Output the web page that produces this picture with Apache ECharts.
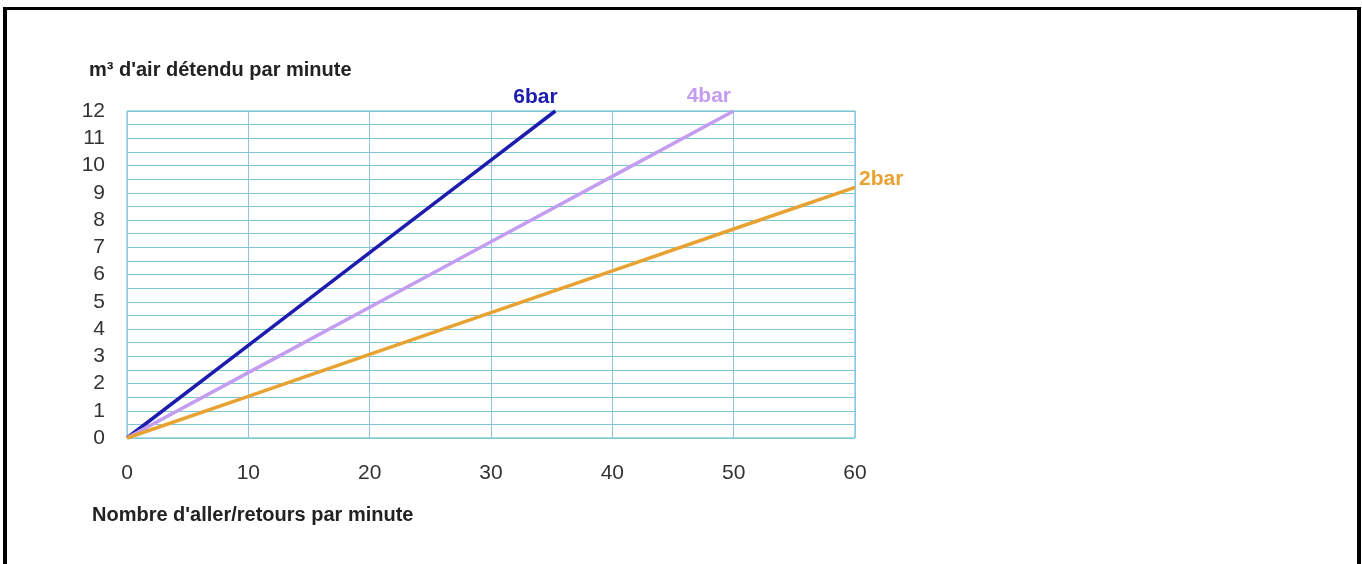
<!DOCTYPE html>
<html>
<head>
<meta charset="utf-8">
<script src="https://cdn.jsdelivr.net/npm/echarts@6/dist/echarts.min.js"></script>
<style>
  html, body { margin: 0; padding: 0; background: #fff; }
  #frame { position: absolute; left: 3px; top: 7px; width: 1350px; height: 560px;
           border-left: 4px solid #000; border-top: 3px solid #000; border-right: 4px solid #000; }
  #chart { position: absolute; left: 0; top: 0; width: 1362px; height: 564px; }
</style>
</head>
<body>
<div id="frame"></div>
<div id="chart"></div>
<script>
// valeurs
const xTicks = [0, 10, 20, 30, 40, 50, 60]
const bar6 = [[0, 0], [10, 3.4], [20, 6.8], [30, 10.2], [35.3, 12]]
const bar4 = [[0, 0], [10, 2.4], [20, 4.8], [30, 7.2], [40, 9.6], [50, 12]]
const bar2 = [[0, 0], [10, 1.53], [20, 3.07], [30, 4.6], [40, 6.13], [50, 7.67], [60, 9.2]]
const seriesNames = ['6bar', '4bar', '2bar']
const seriesColors = ['#1c1cae', '#c49cf0', '#e8a232']

const FONT = "'Liberation Sans', Arial, sans-serif"

const chart = echarts.init(document.getElementById('chart'))

function lineSeries(name, data, color, labelOffset) {
  return {
    name: name,
    type: 'line',
    data: data,
    symbol: 'none',
    lineStyle: { color: color, width: 3.5 },
    endLabel: {
      show: true,
      formatter: name,
      color: color,
      fontFamily: FONT,
      fontWeight: 'bold',
      fontSize: 21,
      offset: labelOffset
    },
    z: 3
  }
}

chart.setOption({
  animation: false,
  grid: { left: 127, right: 507, top: 111, bottom: 126, show: true, borderColor: '#5fbfc6', borderWidth: 1 },
  xAxis: {
    type: 'value',
    min: 0,
    max: 60,
    interval: 10,
    axisLine: { show: false },
    axisTick: { show: false },
    axisLabel: { color: '#333', fontSize: 21, fontFamily: FONT, margin: 25 },
    splitLine: { lineStyle: { color: '#8fc4e2', width: 1 } }
  },
  yAxis: {
    type: 'value',
    min: 0,
    max: 12,
    interval: 1,
    axisLine: { show: false },
    axisTick: { show: false },
    axisLabel: { color: '#333', fontSize: 21, fontFamily: FONT, margin: 22, padding: [0, 0, 4, 0] },
    splitLine: { lineStyle: { color: '#7ec5d4', width: 1 } },
    minorTick: { show: false, splitNumber: 2 },
    minorSplitLine: { show: true, lineStyle: { color: '#7ec5d4', width: 1 } }
  },
  graphic: [
    {
      type: 'text', left: 89, top: 60,
      style: { text: "m³ d'air détendu par minute", fill: '#222', font: "bold 20px " + FONT }
    },
    {
      type: 'text', left: 92, top: 505,
      style: { text: "Nombre d'aller/retours par minute", fill: '#222', font: "bold 20px " + FONT }
    }
  ],
  series: [
    lineSeries(seriesNames[0], bar6, seriesColors[0], [-50, -14]),
    lineSeries(seriesNames[1], bar4, seriesColors[1], [-55, -15]),
    lineSeries(seriesNames[2], bar2, seriesColors[2], [-4, -8])
  ]
})
</script>
</body>
</html>
